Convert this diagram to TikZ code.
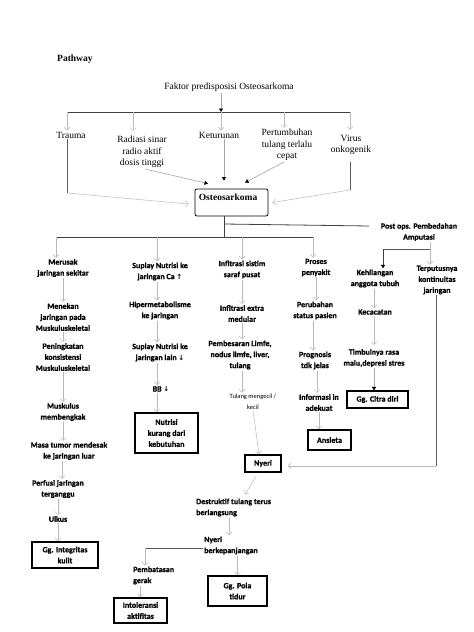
\documentclass[tikz,border=0pt]{standalone}
\usepackage{fontspec}
\setmainfont{Carlito}[BoldFeatures={FakeBold=0.8}]
\newfontfamily\seriffam{Liberation Serif}
\newfontfamily\symfam{DejaVu Sans}
\usetikzlibrary{arrows.meta,calc}
\tikzset{
  txt/.style={font=\bfseries\fontsize{8}{11}\selectfont, align=center, inner sep=1pt},
  stxt/.style={font=\seriffam\fontsize{9.5}{11.5}\selectfont, align=center, inner sep=1pt},
  box/.style={draw, line width=1.1pt, txt, inner sep=2pt},
  tbox/.style={box, line width=1.6pt},
  ga/.style={draw=gray!55, line width=0.5pt, -{Straight Barb[length=3pt,width=6pt]}},
  ba/.style={draw=gray!70, line width=0.6pt, -{Triangle[length=3.5pt,width=4pt,color=black]}},
  ln/.style={draw=black!75, line width=0.8pt},
  lnt/.style={draw=black!65, line width=0.6pt},
}
\begin{document}
\begin{tikzpicture}[x=1pt,y=-1pt]
\useasboundingbox (0,0) rectangle (474,632);
\fill[white] (0,0) rectangle (474,632);

% ---- top ----
\node[anchor=west, font=\seriffam\bfseries\fontsize{9.5}{11}\selectfont, inner sep=0] (pathway) at (57,59) {Pathway};
\node[stxt] (faktor) at (229,87) {Faktor predisposisi Osteosarkoma};
\coordinate (j0) at (221,112);
\coordinate (hl) at (67,112);
\coordinate (hr) at (351,112);
\coordinate (a2) at (133,112);
\coordinate (a4) at (284,112);
\coordinate (a5) at (350,112);
\draw[ba] (faktor.south -| j0) -- (j0);
\draw[ln] (hl) -- (hr);

\node[stxt] (trauma) at (71,135) {Trauma};
\node[stxt] (radiasi) at (142,152) {Radiasi sinar\\radio aktif\\dosis tinggi};
\node[stxt] (keturunan) at (219,135) {Keturunan};
\node[stxt] (pertumbuhan) at (287,145) {Pertumbuhan\\tulang terlalu\\cepat};
\node[stxt] (virus) at (351,145) {Virus\\onkogenik};

\draw[ga] (hl) -- (trauma.north -| hl);
\draw[ga] (a2) -- ($(radiasi.north -| a2)+(0,-4)$);
\draw[ga] (j0) -- (keturunan.north -| j0);
\draw[ga] (a4) -- (pertumbuhan.north -| a4);
\draw[ga] (a5) -- ($(virus.north -| a5)+(0,-4)$);

\node[draw, line width=0.8pt, rounded corners=2pt, minimum width=73pt, minimum height=27pt, inner sep=0,
  label={[anchor=north west, inner sep=0, xshift=4pt, yshift=-5pt, font=\seriffam\bfseries\fontsize{9.5}{11}\selectfont]north west:Osteosarkoma}] (osteo) at (231.5,202.5) {};

\coordinate (tb) at (67,193);
\draw[lnt] (trauma.south -| tb) -- (tb);
\draw[ga] (tb) -- ($(osteo.west)+(-6,1.5)$);
\draw[ba] ($(radiasi.south)+(3,0)$) -- ($(osteo.north)+(-23.5,-5)$);
\draw[ba] ($(keturunan.south)+(5,0)$) -- ($(osteo.north)+(-7.5,-8)$);
\draw[ba] ($(pertumbuhan.south)+(-3,0)$) -- ($(osteo.north)+(13.5,-6)$);
\coordinate (vb) at (350,190);
\draw[lnt] ($(virus.south -| vb)+(0,6)$) -- (vb);
\draw[ga] (vb) -- ($(osteo.east)+(4,0)$);

% ---- branch below osteosarkoma ----
\coordinate (ob) at (224,237);
\coordinate (oc) at (224,224);
\coordinate (pe) at (369,226);
\draw[ln] (osteo.south -| ob) -- (ob);
\draw[ln] (oc) -- (pe);
\node[txt] (postops) at (419,232) {Post ops. Pembedahan\\Amputasi};
\coordinate (bl) at (56,237);
\coordinate (br) at (313,237);
\coordinate (b2) at (157,237);
\coordinate (b3) at (242,237);
\draw[ln] (bl) -- (br);

% column 1
\node[txt] (merusak) at (63,268) {Merusak\\jaringan sekitar};
\node[txt] (menekan) at (63,317) {Menekan\\jaringan pada\\Muskuluskeletal};
\node[txt] (peningkatan) at (63,357) {Peningkatan\\konsistensi\\Muskuluskeletal};
\node[txt] (muskulus) at (63,412) {Muskulus\\membengkak};
\node[txt] (masa) at (69,451) {Masa tumor mendesak\\ke jaringan luar};
\node[txt] (perfusi) at (58,489) {Perfusi jaringan\\terganggu};
\node[txt] (ulkus) at (58,519) {Ulkus};
\node[tbox, minimum width=66pt, minimum height=26pt] (integ) at (65,555) {Gg. Integritas\\kulit};
\draw[ga] (bl) -- (merusak.north -| bl);
\draw[ga] (merusak.south) -- (menekan.north);
\draw[ga] (menekan.south) -- (peningkatan.north);
\draw[ga] (peningkatan.south) -- (muskulus.north);
\draw[ga] (muskulus.south) -- (masa.north -| muskulus.south);
\draw[ga] ($(masa.south)+(-7,0)$) -- ($(perfusi.north)+(4,0)$);
\draw[ga] (perfusi.south) -- (ulkus.north);
\draw[ga] (ulkus.south) -- (integ.north -| ulkus.south);

% column 2
\node[txt] (suplay1) at (160,271.5) {Suplay Nutrisi ke\\jaringan Ca {\symfam\fontsize{7}{11}\selectfont ↑}};
\node[txt] (hiper) at (160,310.5) {Hipermetabolisme\\ke jaringan};
\node[txt] (suplay2) at (160,352.5) {Suplay Nutrisi ke\\jaringan lain {\symfam\fontsize{7}{11}\selectfont ↓}};
\node[txt] (bb) at (161,389) {BB {\symfam\fontsize{7}{11}\selectfont ↓}};
\node[tbox, minimum width=63pt, minimum height=40pt] (nutrisi) at (166.5,433) {Nutrisi\\kurang dari\\kebutuhan};
\draw[ga] (b2) -- (suplay1.north -| b2);
\draw[ga] (suplay1.south -| b2) -- (hiper.north -| b2);
\draw[ga] (hiper.south -| b2) -- (suplay2.north -| b2);
\draw[ga] (suplay2.south -| b2) -- (bb.north -| b2);
\draw[ga] (bb.south -| b2) -- (nutrisi.north -| b2);

% column 3
\node[txt] (infl1) at (242,269.5) {Infltrasi sistim\\saraf pusat};
\node[txt] (infl2) at (242,313.5) {Infltrasi extra\\medular};
\node[txt] (pembesaran) at (240,355) {Pembesaran Limfe,\\nodus limfe, liver,\\tulang};
\node[font=\fontsize{6.5}{11}\selectfont, align=center, inner sep=1pt] (tulang) at (253,401.5) {Tulang mengecil /\\kecil};
\node[tbox, minimum width=36pt, minimum height=17pt] (nyeri) at (263,463.5) {Nyeri};
\draw[ga] (b3) -- (infl1.north -| b3);
\draw[ga] (infl1.south -| b3) -- (infl2.north -| b3);
\draw[ga] (infl2.south -| b3) -- (pembesaran.north -| b3);
\draw[ga] (pembesaran.south -| b3) -- (tulang.north -| b3);
\draw[ga] (tulang.south) -- ($(nyeri.north)+(-4,0)$);

% column 4
\node[txt] (proses) at (316,267.5) {Proses\\penyakit};
\node[txt] (perubahan) at (315,310.5) {Perubahan\\status pasien};
\node[txt] (prognosis) at (315,360.5) {Prognosis\\tdk jelas};
\node[txt] (informasi) at (319,402.5) {Informasi in\\adekuat};
\node[box, minimum width=43pt, minimum height=20pt] (ansieta) at (329.5,440) {Ansieta};
\draw[ga] (br) -- (proses.north -| br);
\draw[ga] (proses.south) -- (perubahan.north -| proses.south);
\draw[ga] ($(perubahan.south)+(-2,0)$) -- ($(prognosis.north)+(-2,0)$);
\draw[ga] ($(prognosis.south)+(2,0)$) -- ($(informasi.north)+(-2,0)$);
\draw[ga] (informasi.south) -- (ansieta.north -| informasi.south);

% column 5 / 6 (post ops)
\coordinate (pj) at (430,249);
\coordinate (pk) at (383,249);
\node[txt] (kehilangan) at (375,278.5) {Kehilangan\\anggota tubuh};
\node[txt] (kecacatan) at (375,312) {Kecacatan};
\node[txt] (timbul) at (374,358) {Timbulnya rasa\\malu,depresi stres};
\node[box, minimum width=61pt, minimum height=17pt] (citra) at (377.5,399.5) {Gg. Citra diri};
\node[txt] (terputus) at (437,280) {Terputusnya\\kontinuitas\\jaringan};
\draw[ga] (postops.south -| pj) -- (terputus.north -| pj);
\draw[lnt] (pj) -- (pk);
\draw[ba, draw=black!75] (pk) -- (kehilangan.north -| pk);
\draw[ga] ($(kehilangan.south)+(-1,0)$) -- ($(kecacatan.north)+(-1,0)$);
\draw[ga] ($(kecacatan.south)+(-1,0)$) -- ($(timbul.north)+(0,-3)$);
\draw[ba] (timbul.south) -- (citra.north -| timbul.south);
\coordinate (tr) at (436,466);
\draw[lnt] (terputus.south -| tr) -- (tr);
\draw[ga] (tr) -- ($(nyeri.east |- tr)+(6,0)$);

% bottom
\node[txt, align=left, anchor=west] (destruktif) at (195,507.5) {Destruktif tulang terus\\berlangsung};
\draw[ga] ($(nyeri.south)+(-7,4)$) -- ($(destruktif.north)+(11.5,-3)$);
\coordinate (dx) at (229,519);
\node[txt, align=left, anchor=west] (nyeri2) at (203,545.5) {Nyeri\\berkepanjangan};
\draw[ga] (destruktif.south -| dx) -- (nyeri2.north -| dx);
\coordinate (pb) at (145,548);
\draw[lnt] (nyeri2.west |- pb) -- (pb);
\node[txt, align=left, anchor=west] (pembatasan) at (132,575.5) {Pembatasan\\gerak};
\draw[ga] (pb) -- (pembatasan.north -| pb);
\node[tbox, minimum width=53pt, minimum height=25pt] (intol) at (140.5,610.5) {Intoleransi\\aktifitas};
\draw[ga] (pembatasan.south -| intol.north) -- (intol.north);
\node[tbox, minimum width=59pt, minimum height=30pt] (pola) at (237.5,591) {Gg. Pola\\tidur};
\draw[ga] (nyeri2.south -| pola.north) -- (pola.north);
\end{tikzpicture}
\end{document}
